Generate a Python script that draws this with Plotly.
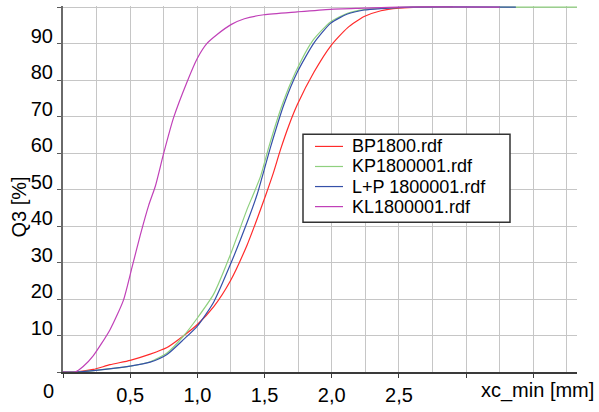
import plotly.graph_objects as go

# Cumulative size distributions Q3 over xc_min
series_names = ["BP1800.rdf", "KP1800001.rdf", "L+P 1800001.rdf", "KL1800001.rdf"]
series_colors = ["#ff2a2a", "#8fd07f", "#3550a8", "#c040b8"]

x_bp = [0, 0.09, 0.226, 0.35, 0.5, 0.649, 0.774, 0.9, 1.0, 1.122, 1.246, 1.371, 1.445,
        1.507, 1.565, 1.619, 1.68, 1.744, 1.868, 1.993, 2.117, 2.241, 2.366, 2.5, 2.65, 2.9]
q_bp = [0, 0, 0.7, 2.0, 3.2, 4.9, 6.7, 10.0, 13.0, 17.9, 25.0, 34.9, 42.0,
        48.3, 54.5, 61.0, 67.5, 73.3, 82.2, 89.4, 94.3, 97.4, 99.0, 99.7, 100, 100]

x_kp = [0, 0.09, 0.226, 0.5, 0.649, 0.774, 0.9, 1.0, 1.122, 1.246, 1.371, 1.42, 1.47,
        1.532, 1.632, 1.731, 1.856, 1.993, 2.117, 2.241, 2.366, 2.6, 3.83]
q_kp = [0, 0, 0.4, 1.6, 2.8, 5.2, 10.0, 14.8, 21.4, 32.2, 44.7, 49.0, 53.6,
        61.7, 73.3, 82.2, 90.7, 96.0, 98.3, 99.3, 99.7, 100, 100]

x_lp = [0, 0.09, 0.226, 0.5, 0.649, 0.774, 0.9, 1.0, 1.122, 1.246, 1.371, 1.445, 1.545,
        1.644, 1.744, 1.868, 1.993, 2.117, 2.241, 2.366, 2.6, 3.37]
q_lp = [0, 0, 0.4, 1.6, 2.7, 4.8, 9.0, 12.6, 19.2, 29.5, 41.1, 48.7, 61.7,
        73.3, 82.2, 90.2, 95.6, 98.1, 99.2, 99.6, 100, 100]

x_kl = [0, 0.09, 0.15, 0.226, 0.35, 0.45, 0.513, 0.575, 0.637, 0.687, 0.749, 0.823, 0.923,
        1.0, 1.07, 1.147, 1.25, 1.35, 1.495, 1.744, 1.99, 2.24, 2.5, 3.25]
q_kl = [0, 0, 1.5, 4.5, 11.6, 19.7, 28.6, 37.5, 45.6, 50.9, 59.9, 69.7, 79.5,
        86.0, 90.0, 92.5, 95.2, 96.8, 97.9, 98.7, 99.4, 99.7, 100, 100]

x_series = [x_bp, x_kp, x_lp, x_kl]
q_series = [q_bp, q_kp, q_lp, q_kl]

y_ticks = list(range(0, 101, 10))
y_ticktext = [""] + [str(v) for v in range(10, 100, 10)] + [""]
x_ticks = [0, 0.5, 1.0, 1.5, 2.0, 2.5, 3.0, 3.5]
x_ticktext = ["", "0,5", "1,0", "1,5", "2,0", "2,5", "", ""]
x_minor = [0.25, 0.75, 1.25, 1.75, 2.25, 2.75, 3.25, 3.75]

FONT = "Liberation Sans, Arial, sans-serif"
FS = 20
FS_LEG = 18
W, H = 599, 412
ML, MR, MT, MB = 63, 22, 6, 32
PW, PH = W - ML - MR, H - MT - MB


def px_x(p):
    return (p - ML) / PW


def px_y(p):
    return (H - MB - p) / PH


fig = go.Figure()
for xs, qs, name, col in zip(x_series, q_series, series_names, series_colors):
    fig.add_trace(go.Scatter(x=xs, y=qs, mode="lines", name=name,
                             line=dict(color=col, width=1.2, shape="spline", smoothing=0.6),
                             showlegend=False))

grid = "#c6c6c6"
fig.update_layout(
    width=W, height=H, autosize=False,
    margin=dict(l=ML, r=MR, t=MT, b=MB),
    paper_bgcolor="white", plot_bgcolor="white",
    font=dict(family=FONT, size=FS, color="black"),
    xaxis=dict(range=[0, 3.825], tickmode="array", tickvals=x_ticks, ticktext=x_ticktext,
               showgrid=True, gridcolor=grid, gridwidth=1, zeroline=False,
               showline=True, linecolor="#3a3a3a", linewidth=1.5,
               ticks="outside", ticklen=4, tickcolor="#3a3a3a", tickwidth=1,
               minor=dict(tickmode="array", tickvals=x_minor, showgrid=True,
                          gridcolor=grid, gridwidth=1, ticks="")),
    yaxis=dict(range=[0, 100.3], tickmode="array", tickvals=y_ticks, ticktext=y_ticktext,
               showgrid=True, gridcolor=grid, gridwidth=1, zeroline=False,
               showline=True, linecolor="#6a6a6a", linewidth=2,
               ticks="outside", ticklen=4, tickcolor="#5a5a5a", tickwidth=1,
               ticklabelshift=-8),
)

annotations = [
    dict(text="xc_min [mm]", x=px_x(537), y=px_y(399), xanchor="center", yanchor="middle",
         font=dict(family=FONT, size=FS, color="black")),
    dict(text="Q3 [%]", x=px_x(19), y=px_y(212), xanchor="center", yanchor="middle",
         textangle=-90, font=dict(family=FONT, size=FS, color="black")),
    dict(text="0", x=px_x(48), y=px_y(399), xanchor="center", yanchor="middle",
         font=dict(family=FONT, size=FS, color="black")),
]

# Legend box with line samples
shapes = [dict(type="rect", xref="paper", yref="paper",
               x0=px_x(303), x1=px_x(510), y0=px_y(227), y1=px_y(137),
               line=dict(color="#333333", width=1.5), fillcolor="white", layer="above")]
row_y = [149.5, 170, 190.5, 211]
for name, col, ry in zip(series_names, series_colors, row_y):
    shapes.append(dict(type="line", xref="paper", yref="paper",
                       x0=px_x(315), x1=px_x(343), y0=px_y(ry), y1=px_y(ry),
                       line=dict(color=col, width=1.2), layer="above"))
    annotations.append(dict(text=name, x=px_x(351), y=px_y(ry), xanchor="left",
                            yanchor="middle", borderpad=0,
                            font=dict(family=FONT, size=FS_LEG, color="black")))

for a in annotations:
    a.update(xref="paper", yref="paper", showarrow=False)

fig.update_layout(annotations=annotations, shapes=shapes)
fig.write_html("out.html")
